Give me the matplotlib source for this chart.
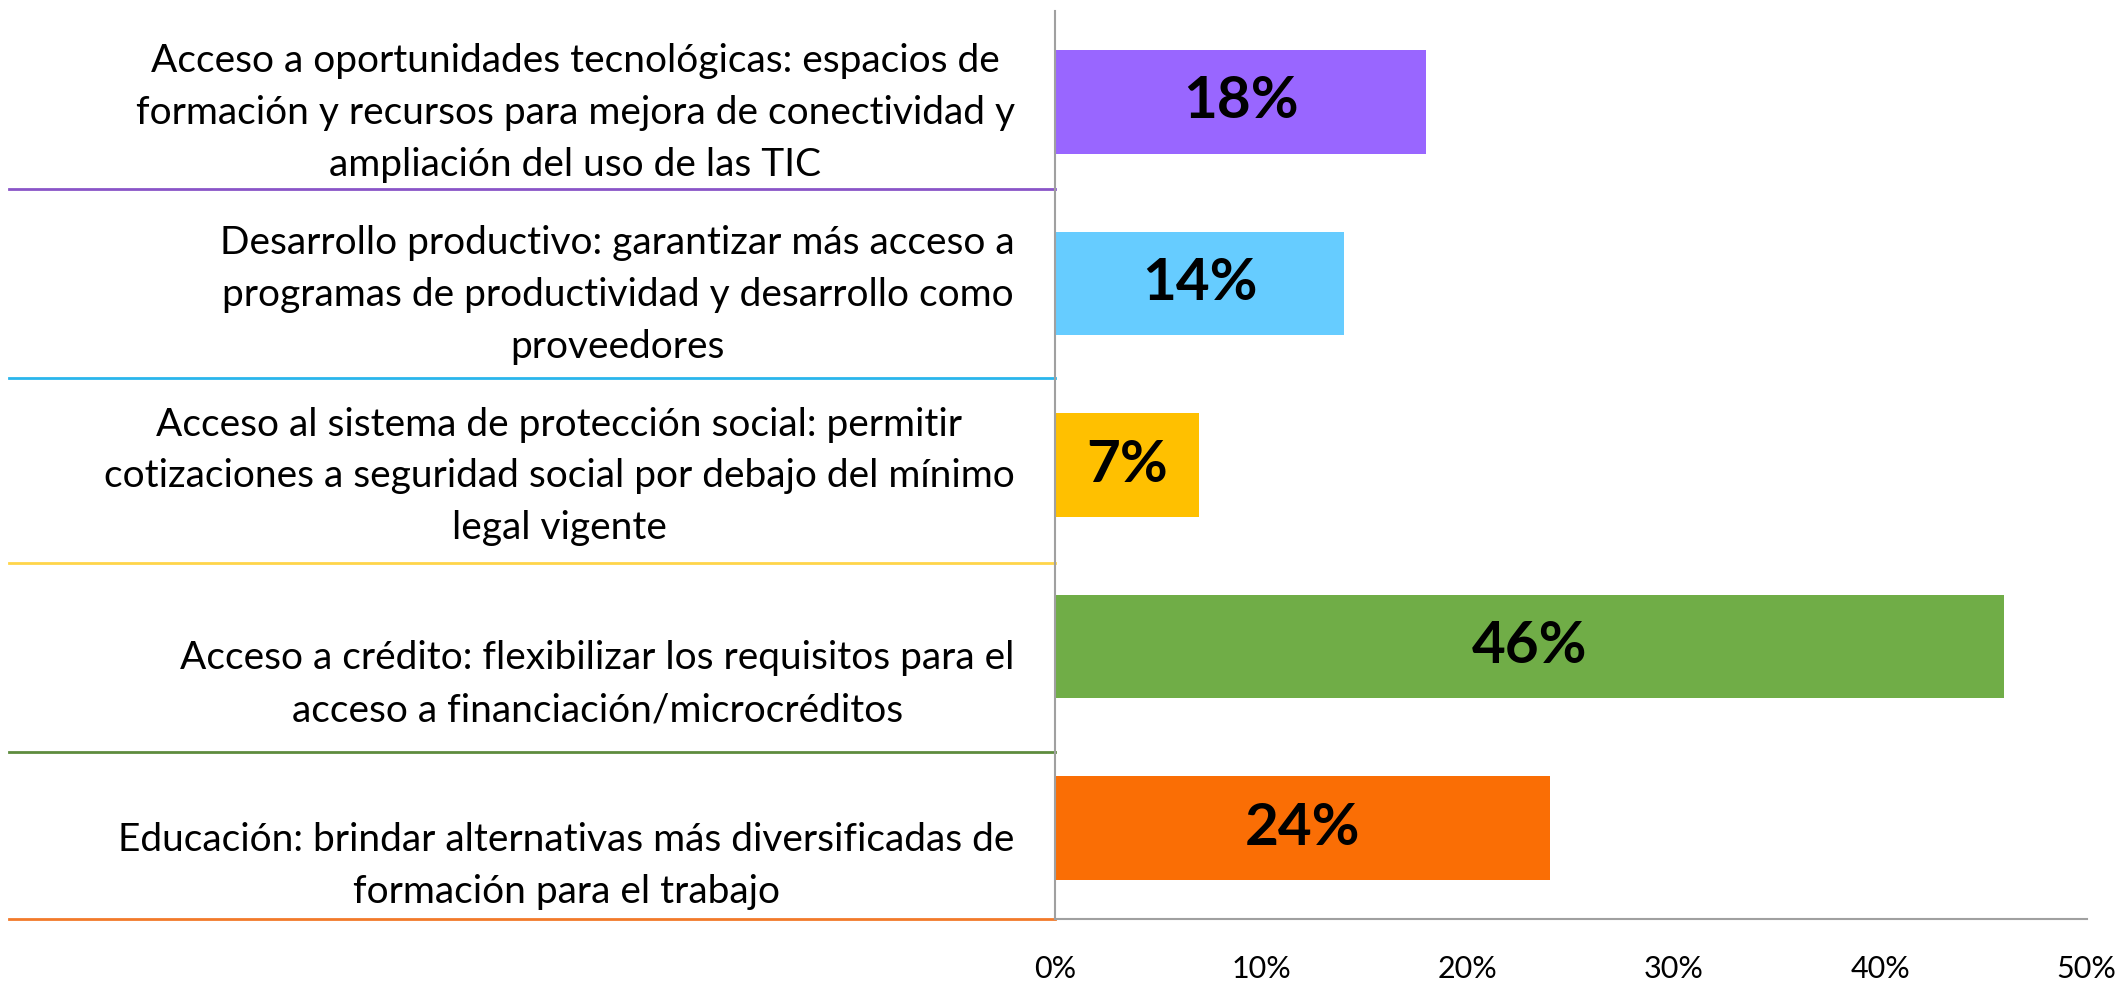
import matplotlib.pyplot as plt
from matplotlib.transforms import blended_transform_factory

# categories top to bottom, as wrapped in the original
labels = [
    "Acceso a oportunidades tecnológicas: espacios de\nformación y recursos para mejora de conectividad y\nampliación del uso de las TIC",
    "Desarrollo productivo: garantizar más acceso a\nprogramas de productividad y desarrollo como\nproveedores",
    "Acceso al sistema de protección social: permitir\ncotizaciones a seguridad social por debajo del mínimo\nlegal vigente",
    "Acceso a crédito: flexibilizar los requisitos para el\nacceso a financiación/microcréditos",
    "Educación: brindar alternativas más diversificadas de\nformación para el trabajo",
]
values = [18, 14, 7, 46, 24]
bar_colors = ["#9966FF", "#66CCFF", "#FFC000", "#70AD47", "#FA6E05"]
line_colors = ["#8A55C8", "#29B6EC", "#FFD54A", "#5E8C3E", "#F27A2A"]
xticks = [0, 10, 20, 30, 40, 50]

plt.rcParams["font.family"] = ["Lato", "DejaVu Sans"]

fig = plt.figure(figsize=(21.25, 9.83), dpi=100)
ax = fig.add_axes([0.4965, 0.0651, 0.4855, 0.9237])

ypos = list(range(len(labels)))
ax.barh(ypos, values, height=0.57, color=bar_colors)
for y, v in zip(ypos, values):
    ax.text(v / 2, y, f"{v}%", ha="center", va="center",
            fontsize=42, fontweight="bold", color="black")

ax.set_ylim(len(labels) - 0.5, -0.5)
ax.set_xlim(0, 50)
ax.set_xticks(xticks)
ax.set_xticklabels([f"{t}%" for t in xticks], fontsize=22)

# excel pushes the two-line labels down half a line
shown = [lab if lab.count("\n") >= 2 else "\n" + lab for lab in labels]
ax.set_yticks(ypos)
ax.set_yticklabels(shown, fontsize=28, multialignment="center",
                   linespacing=1.55)
ax.tick_params(axis="y", length=0, pad=29)
ax.tick_params(axis="x", length=0, pad=26)

for side in ["top", "right"]:
    ax.spines[side].set_visible(False)
for side in ["left", "bottom"]:
    ax.spines[side].set_color("#A0A0A0")
    ax.spines[side].set_linewidth(1.5)

# coloured rule under each label (the excel shapes sit a bit off the boundaries)
rule_shift = [-0.02, 0.02, 0.04, 0.08, 0.0]
trans = blended_transform_factory(fig.transFigure, ax.transData)
for y, c, s in zip(ypos, line_colors, rule_shift):
    ax.plot([0.004, 0.4965], [y + 0.5 + s, y + 0.5 + s], color=c, lw=2,
            transform=trans, clip_on=False)

fig.savefig("out.png", dpi=100)
